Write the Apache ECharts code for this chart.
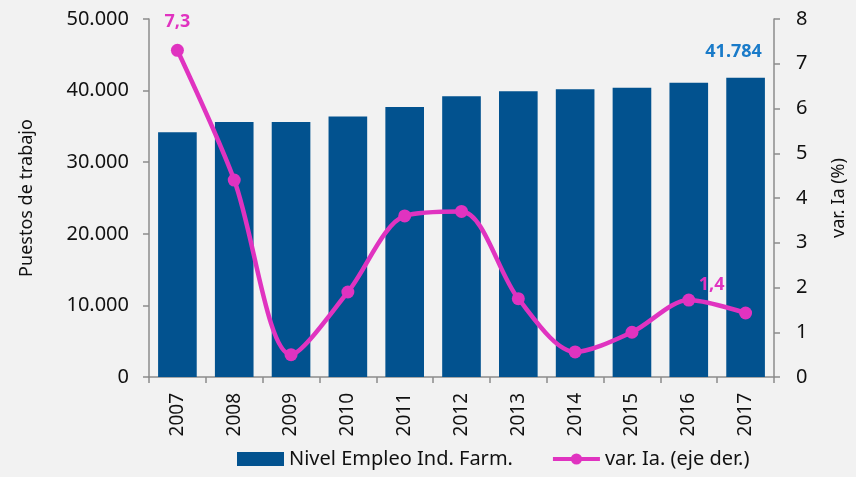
<!DOCTYPE html>
<html>
<head>
<meta charset="utf-8">
<script src="https://cdn.jsdelivr.net/npm/echarts@6/dist/echarts.min.js"></script>
<style>
  html, body { margin: 0; padding: 0; background: #f2f2f2; }
  #chart { width: 856px; height: 477px; }
</style>
</head>
<body>
<div id="chart"></div>
<script>
var years = ['2007','2008','2009','2010','2011','2012','2013','2014','2015','2016','2017'];
var empleo = [34200, 35600, 35600, 36400, 37700, 39200, 39900, 40200, 40400, 41100, 41784];
var varIa = [7.3, 4.4, 0.5, 1.9, 3.6, 3.7, 1.75, 0.56, 1.0, 1.72, 1.43];

var barColor = '#02528f';
var lineColor = '#e033c0';
var axisGray = '#8c8c8c';
var font = 'Noto Sans';

function miles(v) {
  return String(v).replace(/\B(?=(\d{3})+(?!\d))/g, '.');
}

var barData = empleo.map(function (v, i) {
  if (i === empleo.length - 1) {
    return {
      value: v,
      label: {
        show: true, position: 'top', offset: [-12, -12],
        color: '#1a7bc9', fontWeight: 'bold', fontSize: 18, fontFamily: font,
        formatter: function (p) { return miles(p.value); }
      }
    };
  }
  return v;
});

var lineData = varIa.map(function (v, i) {
  if (i === 0) {
    return { value: v, label: { show: true, position: 'top', offset: [0, -8],
      formatter: '7,3' } };
  }
  if (i === varIa.length - 1) {
    return { value: v, label: { show: true, position: 'top', offset: [-34, -8],
      formatter: '1,4' } };
  }
  return v;
});

var chart = echarts.init(document.getElementById('chart'));
chart.setOption({
  backgroundColor: '#f2f2f2',
  animation: false,
  textStyle: { fontFamily: font },
  grid: { left: 149, right: 71, top: 19, bottom: 100 },
  legend: {
    bottom: 3,
    left: 232,
    itemWidth: 47,
    itemHeight: 14,
    itemGap: 38,
    textStyle: { fontSize: 20, color: '#111', fontFamily: font },
    data: [
      { name: 'Nivel Empleo Ind. Farm.', icon: 'rect' },
      { name: 'var. Ia. (eje der.)', lineStyle: { width: 4 } }
    ]
  },
  xAxis: {
    type: 'category',
    data: years,
    axisLine: { lineStyle: { color: axisGray, width: 1.5 } },
    axisTick: { show: true, length: 6, lineStyle: { color: axisGray, width: 1.5 } },
    axisLabel: { rotate: 90, fontSize: 19, color: '#111', margin: 16, interval: 0 }
  },
  yAxis: [
    {
      type: 'value',
      min: 0, max: 50000, interval: 10000,
      name: 'Puestos de trabajo',
      nameLocation: 'middle',
      nameGap: 113,
      nameTextStyle: { fontSize: 18, color: '#111' },
      axisLine: { show: true, lineStyle: { color: axisGray, width: 1.5 } },
      axisTick: { show: true, length: 6, lineStyle: { color: axisGray, width: 1.5 } },
      axisLabel: { fontSize: 20, color: '#111', margin: 20, formatter: miles },
      splitLine: { show: false }
    },
    {
      type: 'value',
      min: 0, max: 8, interval: 1,
      name: 'var. Ia (%)',
      nameLocation: 'middle',
      nameGap: 56,
      nameRotate: 90,
      nameTextStyle: { fontSize: 18, color: '#111' },
      position: 'right',
      axisLine: { show: true, lineStyle: { color: axisGray, width: 1.5 } },
      axisTick: { show: true, length: 6, lineStyle: { color: axisGray, width: 1.5 } },
      axisLabel: { fontSize: 20, color: '#111', margin: 22 },
      splitLine: { show: false }
    }
  ],
  series: [
    {
      name: 'Nivel Empleo Ind. Farm.',
      type: 'bar',
      yAxisIndex: 0,
      data: barData,
      barWidth: '68%',
      itemStyle: { color: barColor }
    },
    {
      name: 'var. Ia. (eje der.)',
      type: 'line',
      yAxisIndex: 1,
      data: lineData,
      smooth: 0.3,
      symbol: 'circle',
      symbolSize: 13,
      lineStyle: { color: lineColor, width: 4.5 },
      itemStyle: { color: lineColor },
      label: { color: lineColor, fontWeight: 'bold', fontSize: 18, fontFamily: font }
    }
  ]
});
</script>
</body>
</html>
